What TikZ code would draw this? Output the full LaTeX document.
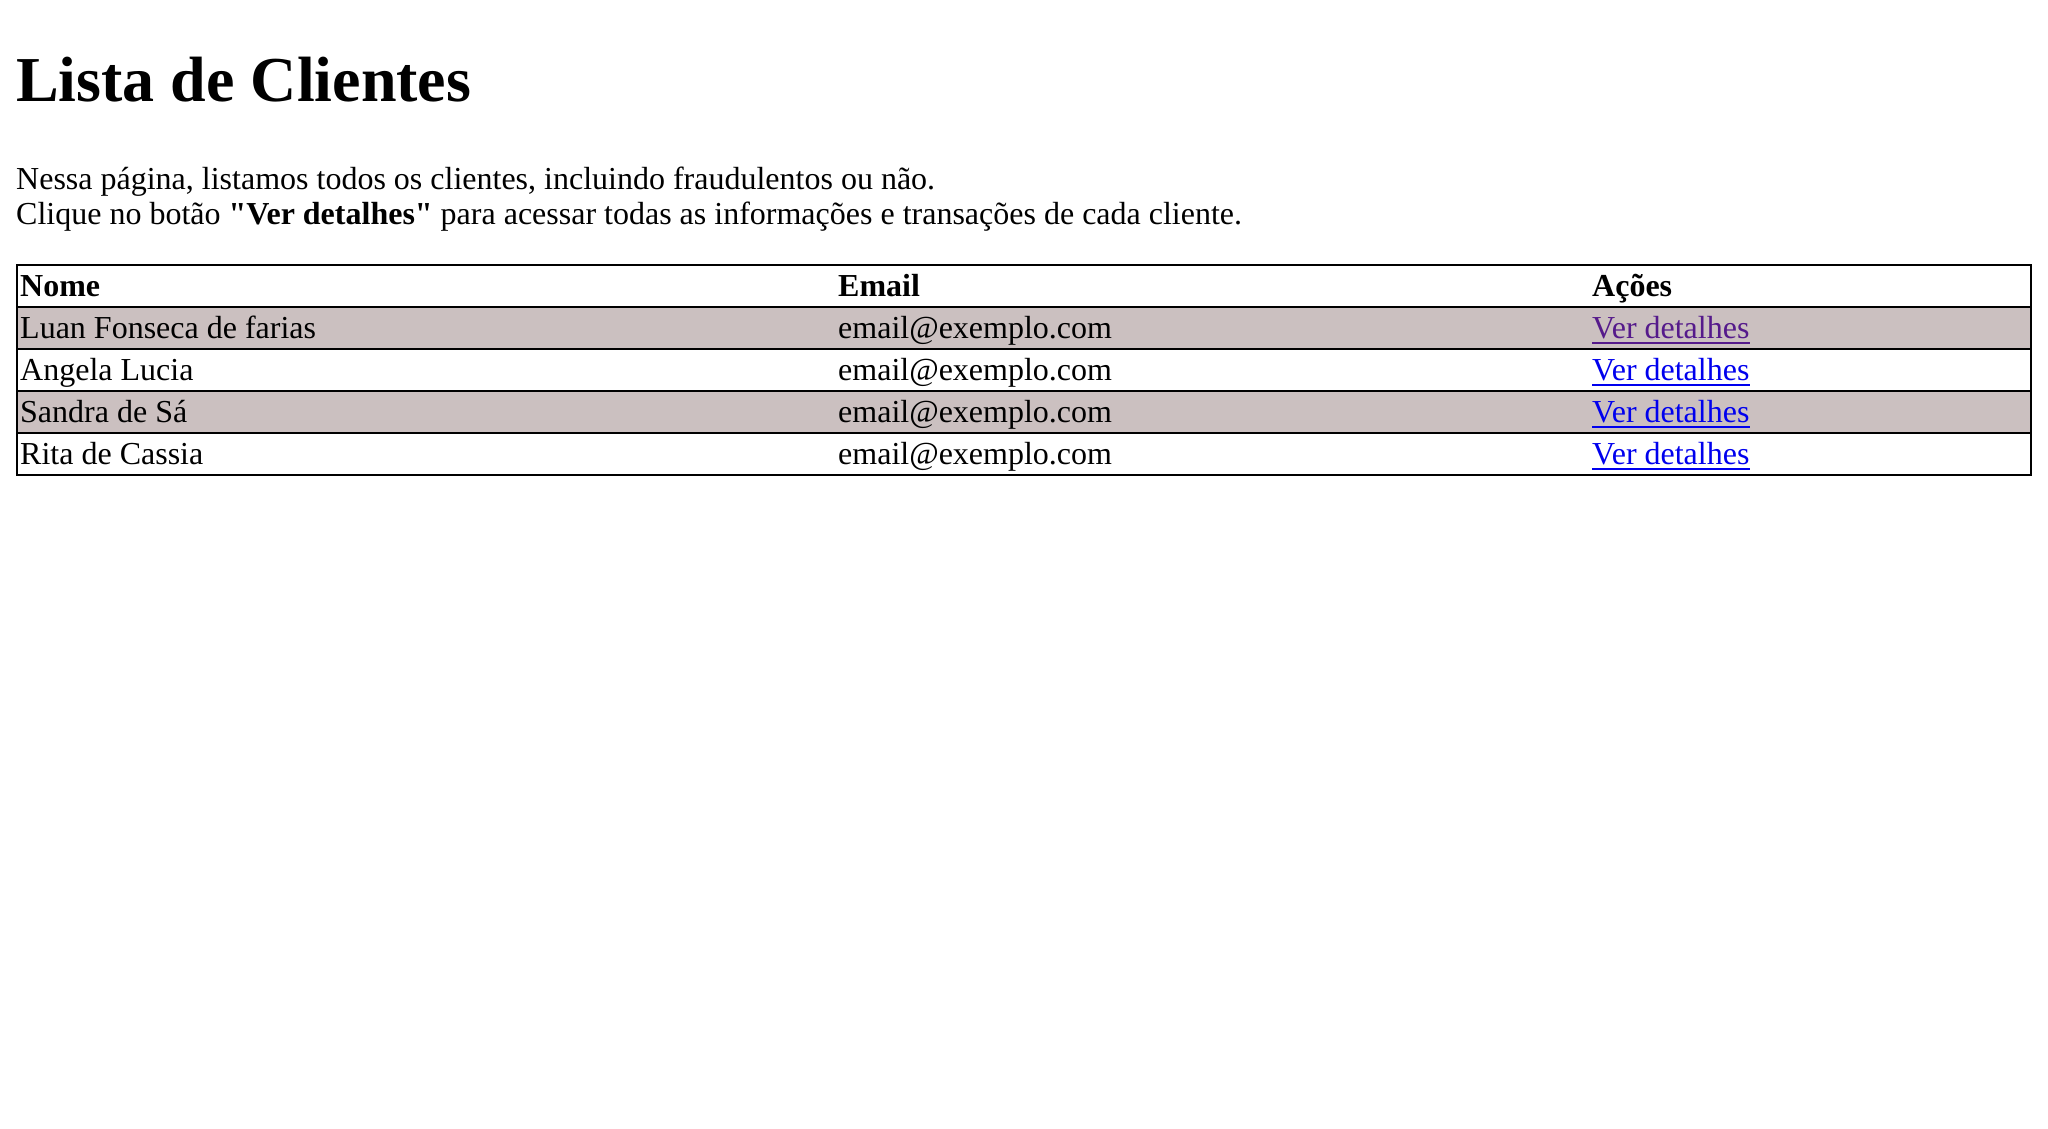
\documentclass[tikz,border=0pt]{standalone}
\usepackage{fontspec}
\setmainfont{Liberation Serif}[Ligatures=TeXOff]
\definecolor{rowgray}{RGB}{203,192,192}
\definecolor{linkblue}{RGB}{0,0,238}
\definecolor{linkvisited}{RGB}{85,26,139}
\tikzset{
  txt/.style={anchor=base west, inner sep=0pt, font=\fontsize{32}{35.4}\selectfont},
  head/.style={txt, font=\fontsize{32}{35.4}\selectfont\bfseries},
  link/.style={txt, text=linkblue},
  visited/.style={txt, text=linkvisited},
  rule/.style={line width=2pt, draw=black},
  uline/.style={line width=2pt},
}
\begin{document}
\begin{tikzpicture}[x=1pt,y=-1pt]
\useasboundingbox (0,0) rectangle (2048,1128);
\fill[white] (0,0) rectangle (2048,1128);
% title and intro
\node[anchor=base west, inner sep=0pt, font=\fontsize{64}{72}\selectfont\bfseries] (title) at (16,101) {Lista de Clientes};
\node[txt] (p1) at (16,189.5) {Nessa página, listamos todos os clientes, incluindo fraudulentos ou não.};
\node[txt] (p2) at (16,224.9) {Clique no botão \textbf{"Ver detalhes"} para acessar todas as informações e transações de cada cliente.};
% row backgrounds
\fill[rowgray] (18,307) rectangle (2030,349);
\fill[rowgray] (18,391) rectangle (2030,433);
% table rules
\draw[rule] (17,265) rectangle (2031,475);
\foreach \y in {307,349,391,433} \draw[rule] (17,\y) -- (2031,\y);
% header
\node[head] (hnome) at (20,296.5) {Nome};
\node[head] (hemail) at (838,296.5) {Email};
\node[head] (hacoes) at (1592,296.5) {Ações};
% rows
\node[txt] (n1) at (20,338.7) {Luan Fonseca de farias};
\node[txt] (e1) at (838,338.7) {email@exemplo.com};
\node[visited] (l1) at (1592,338.7) {Ver detalhes};
\node[txt] (n2) at (20,380.7) {Angela Lucia};
\node[txt] (e2) at (838,380.7) {email@exemplo.com};
\node[link] (l2) at (1592,380.7) {Ver detalhes};
\node[txt] (n3) at (20,422.7) {Sandra de Sá};
\node[txt] (e3) at (838,422.7) {email@exemplo.com};
\node[link] (l3) at (1592,422.7) {Ver detalhes};
\node[txt] (n4) at (20,464.7) {Rita de Cassia};
\node[txt] (e4) at (838,464.7) {email@exemplo.com};
\node[link] (l4) at (1592,464.7) {Ver detalhes};
% underlines
\draw[uline, linkvisited] ([yshift=-4.5pt]l1.base west) -- ([yshift=-4.5pt]l1.base east);
\foreach \n in {l2,l3,l4} \draw[uline, linkblue] ([yshift=-4.5pt]\n.base west) -- ([yshift=-4.5pt]\n.base east);
\end{tikzpicture}
\end{document}
